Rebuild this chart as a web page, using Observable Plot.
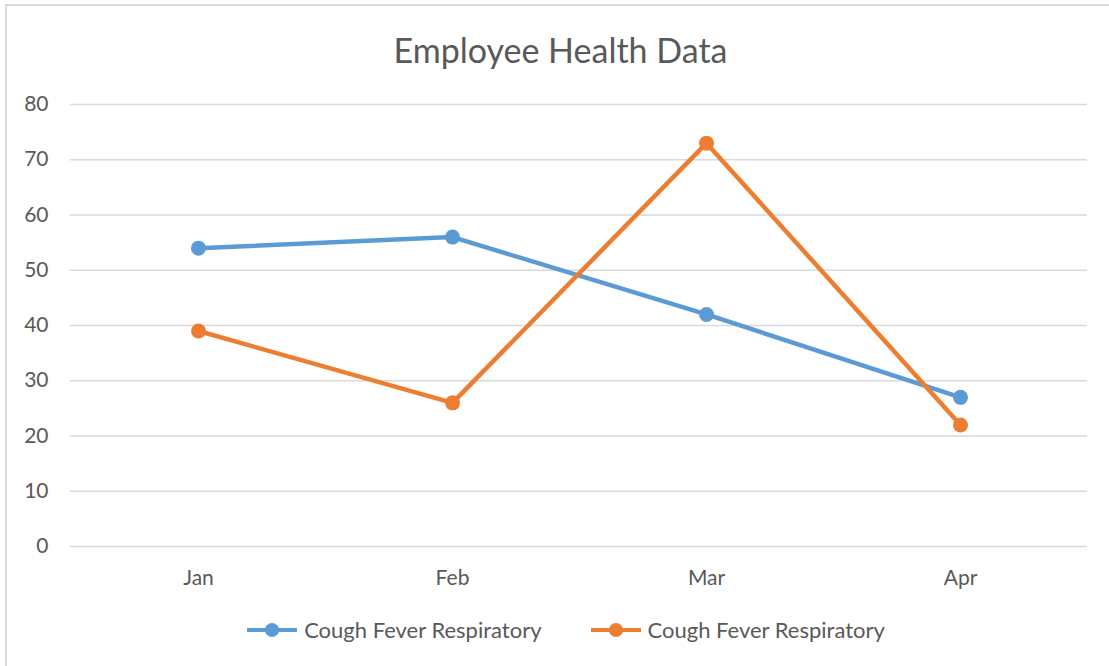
<!DOCTYPE html>
<html>
<head>
<meta charset="utf-8">
<script src="https://cdn.jsdelivr.net/npm/d3@7"></script>
<script src="https://cdn.jsdelivr.net/npm/@observablehq/plot@0.6"></script>
<style>
  html, body { margin: 0; padding: 0; background: #fff; }
  body { width: 1109px; height: 666px; position: relative; overflow: hidden; font-family: Lato, "Open Sans", sans-serif; color: #595959; }
  #frame { position: absolute; left: 5px; top: 4px; width: 1104px; height: 662px; border-left: 2px solid #d9d9d9; border-top: 2px solid #d9d9d9; box-sizing: border-box; }
  #title { position: absolute; left: 6px; top: 30px; width: 1109px; text-align: center; font-size: 34px; line-height: 40px; color: #595959; }
  #chart { position: absolute; left: 0; top: 90px; }
  #legend { position: absolute; left: 11px; top: 614px; width: 1109px; display: flex; justify-content: center; gap: 48px; font-size: 22px; line-height: 32px; }
  .item { display: flex; align-items: center; gap: 6px; }
</style>
</head>
<body>
<div id="frame"></div>
<div id="title">Employee Health Data</div>
<div id="chart"></div>
<div id="legend"></div>
<script>
const months = ["Jan", "Feb", "Mar", "Apr"];
const seriesNames = ["Cough Fever Respiratory (1)", "Cough Fever Respiratory (2)"];
const seriesLabels = ["Cough Fever Respiratory", "Cough Fever Respiratory"];
const series1 = [54, 56, 42, 27];
const series2 = [39, 26, 73, 22];
const colors = ["#5B9BD5", "#ED7D31"];
const yTicks = [0, 10, 20, 30, 40, 50, 60, 70, 80];

const data = [];
months.forEach((m, i) => data.push({month: m, value: series1[i], series: seriesNames[0]}));
months.forEach((m, i) => data.push({month: m, value: series2[i], series: seriesNames[1]}));

const plot = Plot.plot({
  width: 1109,
  height: 510,
  marginLeft: 70,
  marginRight: 22,
  marginTop: 14,
  marginBottom: 54,
  style: {fontFamily: "Lato, 'Open Sans', sans-serif", fontSize: "21px", color: "#595959", background: "transparent"},
  x: {type: "band", domain: months, padding: 0, label: null, tickSize: 0, tickPadding: 24},
  y: {domain: [0, 80], ticks: yTicks, label: null, tickSize: 0, tickPadding: 22},
  color: {domain: seriesNames, range: colors},
  marks: [
    Plot.gridY(yTicks, {stroke: "#d9d9d9", strokeOpacity: 1, strokeWidth: 1.5}),
    Plot.axisY(yTicks, {tickSize: 0, tickPadding: 22, fill: "#595959", label: null}),
    Plot.axisX({tickSize: 0, tickPadding: 24, fill: "#595959", label: null}),
    Plot.line(data, {x: "month", y: "value", z: "series", stroke: "series", strokeWidth: 4.5, curve: "linear"}),
    Plot.dot(data, {x: "month", y: "value", fill: "series", r: 7.5})
  ]
});
document.getElementById("chart").appendChild(plot);

const legend = document.getElementById("legend");
seriesLabels.forEach((label, i) => {
  const item = document.createElement("div");
  item.className = "item";
  item.innerHTML = `<svg width="52" height="16"><line x1="1" y1="8" x2="51" y2="8" stroke="${colors[i]}" stroke-width="4"/><circle cx="26" cy="8" r="7" fill="${colors[i]}"/></svg><span>${label}</span>`;
  legend.appendChild(item);
});
</script>
</body>
</html>
